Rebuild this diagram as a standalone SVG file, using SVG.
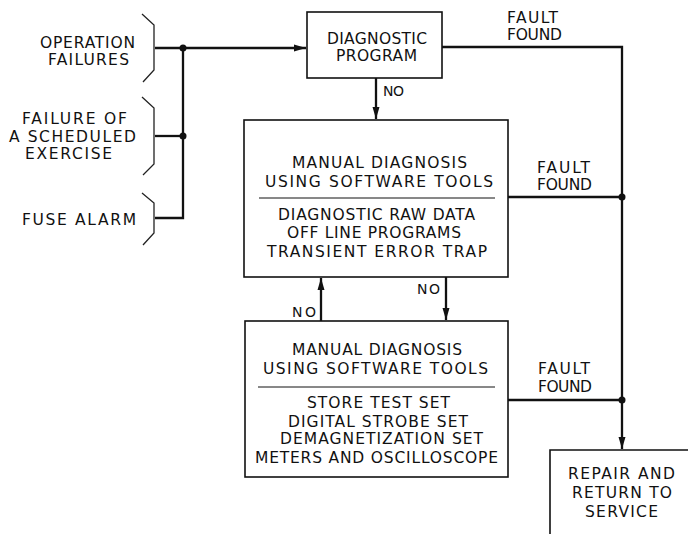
<svg xmlns="http://www.w3.org/2000/svg" width="688" height="534" viewBox="0 0 688 534">
<style>
text{font-family:"DejaVu Sans","Liberation Sans",Arial,sans-serif;font-size:15.5px;fill:#111;}
.no{font-size:14px;}
.box{fill:none;stroke:#111;stroke-width:1.6;}
.div{stroke:#111;stroke-width:1;}
.con{fill:none;stroke:#111;stroke-width:2.3;}
.br{fill:none;stroke:#222;stroke-width:1.3;}
.dot{fill:#111;}
</style>
<defs>
<marker id="ah" viewBox="0 0 12 8" refX="12" refY="4" markerWidth="12" markerHeight="8" markerUnits="userSpaceOnUse" orient="auto">
<path d="M0,0.5 L12,4 L0,7.5 Z" fill="#111"/>
</marker>
</defs>
<rect width="688" height="534" fill="#fff"/>

<g id="in-operation">
<path class="br" d="M142,14 L154,25 L154,70 L143,82"/>
<text x="40" y="48" textLength="95" lengthAdjust="spacing">OPERATION</text>
<text x="48" y="65" textLength="81" lengthAdjust="spacing">FAILURES</text>
</g>
<g id="in-exercise">
<path class="br" d="M142,97 L154,108 L154,164 L143,175"/>
<text x="22" y="124" textLength="105" lengthAdjust="spacing">FAILURE OF</text>
<text x="9" y="142" textLength="127" lengthAdjust="spacing">A SCHEDULED</text>
<text x="25" y="159" textLength="87" lengthAdjust="spacing">EXERCISE</text>
</g>
<g id="in-fuse">
<path class="br" d="M142,193 L154,203 L154,233 L143,245"/>
<text x="22" y="225" textLength="114" lengthAdjust="spacing">FUSE ALARM</text>
</g>

<g id="diag-program">
<rect class="box" x="307" y="12" width="135" height="66"/>
<text x="327" y="44" textLength="100" lengthAdjust="spacing">DIAGNOSTIC</text>
<text x="336" y="61" textLength="81" lengthAdjust="spacing">PROGRAM</text>
</g>

<g id="manual-sw">
<rect class="box" x="244" y="120" width="264" height="157"/>
<text x="292" y="168" textLength="175" lengthAdjust="spacing">MANUAL DIAGNOSIS</text>
<text x="265" y="187" textLength="228" lengthAdjust="spacing">USING SOFTWARE TOOLS</text>
<line class="div" x1="259" y1="198" x2="495" y2="198"/>
<text x="278" y="220" textLength="197" lengthAdjust="spacing">DIAGNOSTIC RAW DATA</text>
<text x="287" y="238" textLength="174" lengthAdjust="spacing">OFF LINE PROGRAMS</text>
<text x="267" y="257" textLength="220" lengthAdjust="spacing">TRANSIENT ERROR TRAP</text>
</g>

<g id="manual-hw">
<rect class="box" x="245" y="321" width="263" height="156"/>
<text x="292" y="355" textLength="170" lengthAdjust="spacing">MANUAL DIAGNOSIS</text>
<text x="263" y="374" textLength="225" lengthAdjust="spacing">USING SOFTWARE TOOLS</text>
<line class="div" x1="258" y1="387" x2="495" y2="387"/>
<text x="307" y="408" textLength="143" lengthAdjust="spacing">STORE TEST SET</text>
<text x="288" y="427" textLength="180" lengthAdjust="spacing">DIGITAL STROBE SET</text>
<text x="280" y="444" textLength="203" lengthAdjust="spacing">DEMAGNETIZATION SET</text>
<text x="255" y="463" textLength="243" lengthAdjust="spacing">METERS AND OSCILLOSCOPE</text>
</g>

<g id="repair">
<path class="box" d="M550,534 L550,450 L688,450"/>
<text x="568" y="479" textLength="107" lengthAdjust="spacing">REPAIR AND</text>
<text x="572" y="498" textLength="100" lengthAdjust="spacing">RETURN TO</text>
<text x="585" y="517" textLength="73" lengthAdjust="spacing">SERVICE</text>
</g>

<g id="connectors">
<path class="con" d="M155,48 L306,48" marker-end="url(#ah)"/>
<path class="con" d="M183,48 L183,218 L155,218"/>
<path class="con" d="M155,136 L183,136"/>
<circle class="dot" cx="183" cy="48" r="3.5"/>
<circle class="dot" cx="183" cy="136" r="3.5"/>
<path class="con" d="M376,78 L376,119" marker-end="url(#ah)"/>
<text class="no" x="383" y="96" textLength="21" lengthAdjust="spacing">NO</text>
<path class="con" d="M442,47 L622,47 L622,449" marker-end="url(#ah)"/>
<text x="507" y="23" textLength="51" lengthAdjust="spacing">FAULT</text>
<text x="507" y="40" textLength="55" lengthAdjust="spacing">FOUND</text>
<path class="con" d="M508,197 L622,197"/>
<circle class="dot" cx="622" cy="197" r="3.5"/>
<text x="537" y="173" textLength="53" lengthAdjust="spacing">FAULT</text>
<text x="537" y="190" textLength="55" lengthAdjust="spacing">FOUND</text>
<path class="con" d="M508,400 L622,400"/>
<circle class="dot" cx="622" cy="400" r="3.5"/>
<text x="538" y="374" textLength="52" lengthAdjust="spacing">FAULT</text>
<text x="538" y="392" textLength="54" lengthAdjust="spacing">FOUND</text>
<path class="con" d="M321,321 L321,278" marker-end="url(#ah)"/>
<text class="no" x="292" y="317" textLength="24" lengthAdjust="spacing">NO</text>
<path class="con" d="M446,277 L446,320" marker-end="url(#ah)"/>
<text class="no" x="417" y="294" textLength="23" lengthAdjust="spacing">NO</text>
</g>
</svg>
